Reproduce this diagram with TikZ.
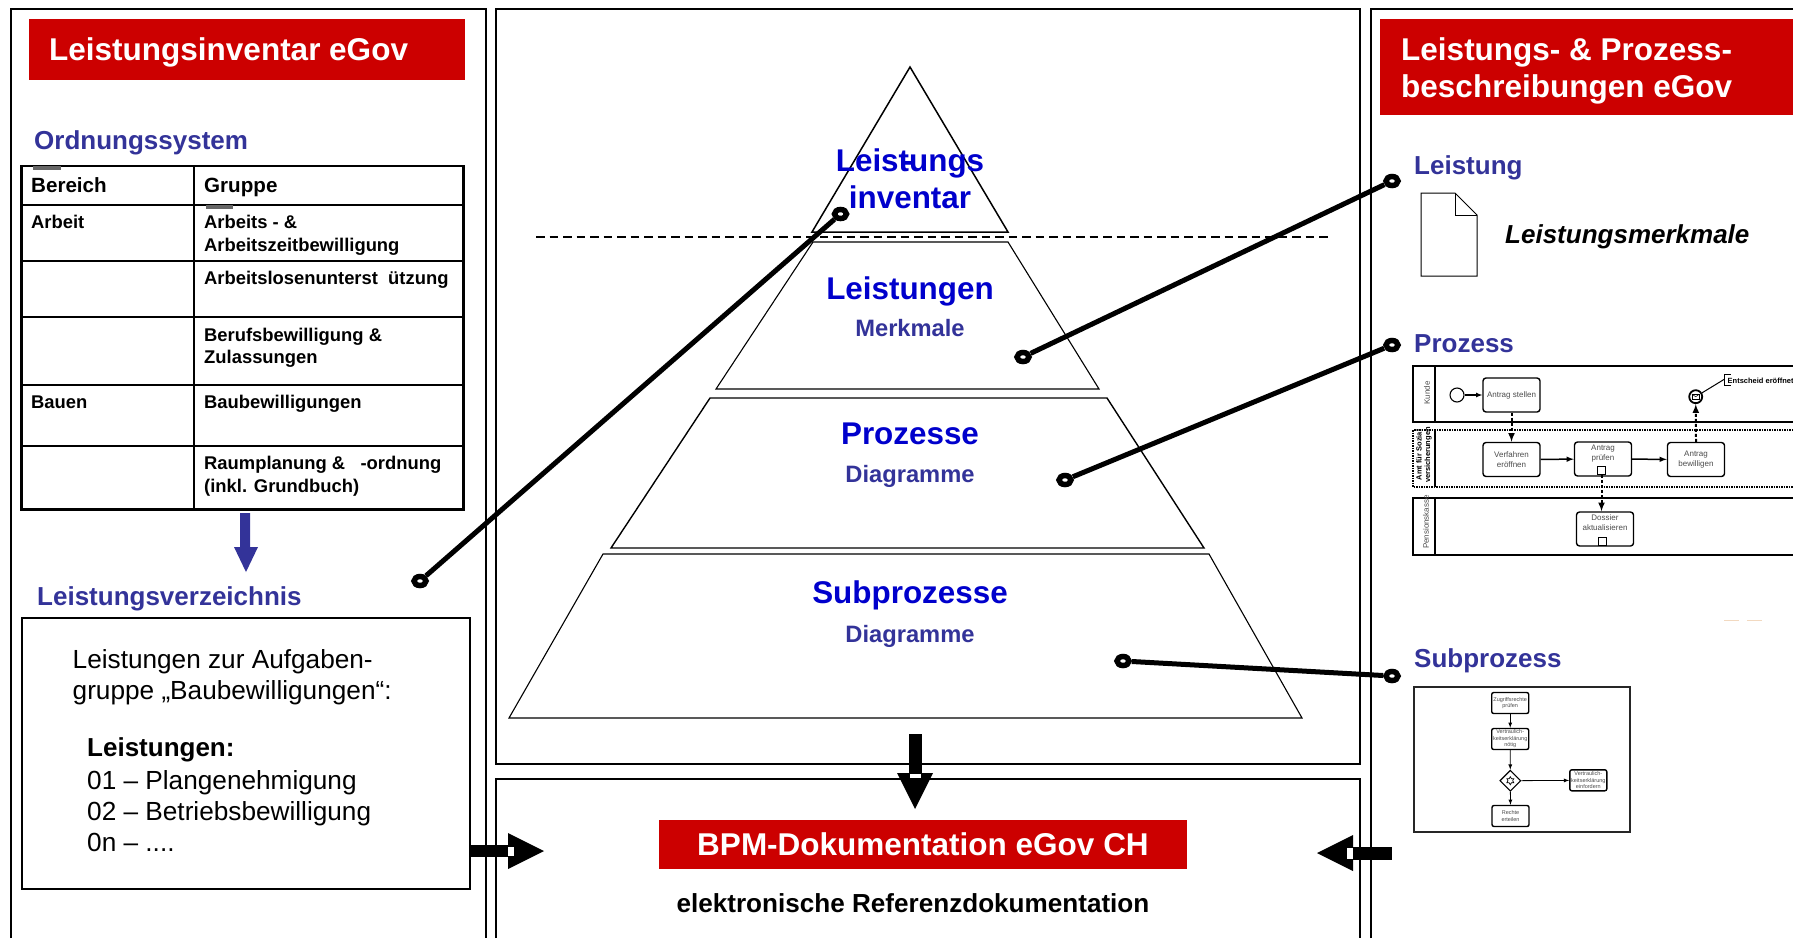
\documentclass[tikz,border=0pt]{standalone}
\usepackage{fontspec}
\setmainfont{Liberation Sans}
\usetikzlibrary{shapes,positioning,arrows,fit,calc}
\definecolor{hdred}{HTML}{CC0000}
\definecolor{navy}{HTML}{333399}
\definecolor{pyblue}{HTML}{0000CC}
\newcommand{\fpx}[1]{\fontsize{#1}{#1}\selectfont}
\tikzset{
    frame/.style={draw=black,line width=1.3pt},
    header/.style={fill=hdred,draw=none,inner sep=0pt},
    headtext/.style={text=white,font=\bfseries\fpx{31.5},anchor=base west,inner sep=0pt,align=left},
    sechead/.style={text=navy,font=\bfseries\fpx{26},anchor=base west,inner sep=0pt},
    cell/.style={font=\bfseries\fpx{18.4},anchor=base west,inner sep=0pt},
    body/.style={font=\fpx{26.2},anchor=base west,inner sep=0pt},
    pyr/.style={draw=black,line width=1.1pt,line join=miter},
    pymain/.style={text=pyblue,font=\bfseries\fpx{31.4},inner sep=0pt},
    pysub/.style={text=navy,font=\bfseries\fpx{23.7},inner sep=0pt},
    endpt/.style={ellipse,draw=black,fill=white,line width=5.5pt,minimum width=12pt,minimum height=9pt,inner sep=0pt},
    conn/.style={draw=black,line width=5pt},
    task/.style={draw=black,fill=white,rounded corners=3pt,line width=1.4pt,text=black!70,align=center,inner sep=0pt,font=\fontsize{8}{9.5}\selectfont},
    subtask/.style={task,font=\fontsize{5.5}{6.5}\selectfont,rounded corners=2pt},
    pool/.style={draw=black,line width=1.3pt},
    lane/.style={text=black!70,font=\fontsize{8}{9}\selectfont,rotate=90,inner sep=0pt,align=center},
    flow/.style={draw=black,line width=1.1pt,-latex},
    dflow/.style={draw=black,line width=2pt,densely dashed,-latex},
}
\begin{document}
\begin{tikzpicture}[x=1pt,y=-1pt]
    \useasboundingbox (0,0) rectangle (1793,938);
    \fill[white] (0,0) rectangle (1793,938);
    % frames
    \draw[frame] (11,938) -- (11,9) -- (486,9) -- (486,938);
    \draw[frame] (496,764) rectangle (1360,9);
    \draw[frame] (496,938) -- (496,779) -- (1360,779) -- (1360,938);
    \draw[frame] (1371,938) -- (1371,9) -- (1793,9);
    % left column
    \node[header,minimum width=436pt,minimum height=61pt] (hdleft) at (247,49.5) {};
    \node[headtext] (hdlefttxt) at (49,60) {Leistungsinventar eGov};
    \node[sechead] (ordnung) at (34,149) {Ordnungssystem};
    % table
    \draw[line width=1.5pt] (21,166) -- (463,166);
    \draw[line width=3pt] (21,165) -- (21,509) -- (463,509) -- (463,165);
    \draw[line width=1.1pt] (194,166) -- (194,509);
    \foreach \y in {205,261,317,385,446}
        \draw[line width=1.2pt] (21,\y) -- (463,\y);
    \fill[black!60] (33,166) rectangle (61,169.5);
    \fill[black!60] (206,205) rectangle (233,208.5);
    \node[cell,font=\bfseries\fpx{20.6}] (bereich) at (31,192) {Bereich};
    \node[cell,font=\bfseries\fpx{20.6}] (gruppe) at (204,192) {Gruppe};
    \node[cell] (arbeit) at (31,228) {Arbeit};
    \node[cell] (g1a) at (204,228) {Arbeits - \&};
    \node[cell] (g1b) at (204,251) {Arbeitszeitbewilligung};
    \node[cell] (g2) at (204,284) {Arbeitslosenunterst\ \ ützung};
    \node[cell] (g3a) at (204,341) {Berufsbewilligung \&};
    \node[cell] (g3b) at (204,363) {Zulassungen};
    \node[cell] (bauen) at (31,408) {Bauen};
    \node[cell] (g4) at (204,408) {Baubewilligungen};
    \node[cell] (g5a) at (204,469) {Raumplanung \&\ \ \ -ordnung};
    \node[cell] (g5b) at (204,492) {(inkl. Grundbuch)};
    % arrow table to list
    \fill[navy] (240,513) -- (250,513) -- (250,547) -- (258,547) -- (246,572) -- (234,547) -- (240,547) -- cycle;
    \node[sechead] (verz) at (37,605) {Leistungsverzeichnis};
    \node[draw=black,line width=1.6pt,minimum width=448pt,minimum height=271pt,inner sep=0pt] (list) at (246,753.5) {};
    \node[body] (l1) at (72.5,668) {Leistungen zur Aufgaben-};
    \node[body] (l2) at (72.5,699) {gruppe „Baubewilligungen“:};
    \node[body,font=\bfseries\fpx{26}] (l3) at (87,756) {Leistungen:};
    \node[body] (l4) at (87,789) {01 – Plangenehmigung};
    \node[body] (l5) at (87,820) {02 – Betriebsbewilligung};
    \node[body] (l6) at (87,851) {0n – ....};
    % block arrows
    \fill (470,845) rectangle (510,857);
    \fill (508,833) -- (544,851) -- (508,869) -- cycle;
    \fill[white] (508,847) rectangle (514,856);
    \fill (1392,847) rectangle (1352,860);
    \fill (1353,835) -- (1317,853) -- (1353,871) -- cycle;
    \fill[white] (1347,848) rectangle (1352.5,859);
    \fill (909,734) rectangle (922,775);
    \fill (897,773) -- (933,773) -- (915,809) -- cycle;
    \fill[white] (910,774) rectangle (921,778);
    % pyramid
    \draw[pyr,line width=1.5pt] (910,67) -- (1008,232) -- (812,232) -- cycle;
    \draw[pyr] (813,242) -- (1008,242) -- (1099,389) -- (716,389) -- cycle;
    \draw[pyr,line width=1.4pt] (710,398) -- (1107,398) -- (1204,548) -- (611,548) -- cycle;
    \draw[pyr] (603,554) -- (1209,554) -- (1302,718) -- (509,718) -- cycle;
    \draw[line width=2.6pt,dash pattern=on 8.5pt off 5pt] (536,237) -- (1329,237);
    \node[pymain] (inv1) at (910,163.5) {Leis\rlap{\kern4pt-}tungs};
    \node[pymain] (inv2) at (910,197) {inventar};
    \node[pymain] (lei) at (910,291) {Leistungen};
    \node[pysub] (mm) at (910,328) {Merkmale};
    \node[pymain] (pro) at (910,434) {Prozesse};
    \node[pysub] (dg1) at (910,476) {Diagramme};
    \node[pymain] (sub) at (910,595) {Subprozesse};
    \node[pysub] (dg2) at (910,636) {Diagramme};
    % red box bottom
    \node[header,minimum width=528pt,minimum height=49pt,text=white,font=\bfseries\fpx{31.5}] (bpm) at (923,844.5) {BPM-Dokumentation eGov CH};
    \node[font=\bfseries\fpx{26.1},inner sep=0pt] (ref) at (913,903) {elektronische Referenzdokumentation};
    % right column
    \node[header,minimum width=413pt,minimum height=96pt] (hdright) at (1586.5,67) {};
    \node[headtext] (hdr1) at (1401,60) {Leistungs- \& Prozess-};
    \node[headtext] (hdr2) at (1401,97) {beschreibungen eGov};
    \node[sechead] (leist) at (1414,174) {Leistung};
    \draw[line width=1pt] (1421,193) -- (1455,193) -- (1477,215) -- (1477,276) -- (1421,276) -- cycle;
    \draw[line width=1pt] (1455,193) -- (1455,215) -- (1477,215);
    \node[font=\bfseries\itshape\fpx{26},anchor=west,inner sep=0pt] (merk) at (1505,237) {Leistungsmerkmale};
    \node[sechead] (proz) at (1414,352) {Prozess};
    \node[sechead] (subp) at (1414,667) {Subprozess};
    % process pools
    \draw[pool] (1793,366) -- (1413,366) -- (1413,422) -- (1793,422);
    \draw[pool] (1435,366) -- (1435,422);
    \draw[pool,dash pattern=on 1.5pt off 1pt] (1793,430) -- (1413,430) -- (1413,487) -- (1793,487);
    \draw[pool] (1435,430) -- (1435,487);
    \draw[pool] (1793,498) -- (1413,498) -- (1413,555) -- (1793,555);
    \draw[pool] (1435,498) -- (1435,555);
    \node[lane] (kunde) at (1427,393) {Kunde};
    \node[lane,text=black,font=\bfseries\fontsize{7.5}{8.5}\selectfont] (amt) at (1424,455) {Amt für Sozial\\versicherungen};
    \node[lane] (pens) at (1426,522) {Pensionskasse};
    \node[circle,draw=black,line width=1.1pt,minimum size=14pt,inner sep=0pt] (start) at (1457,395) {};
    \node[task,minimum width=57pt,minimum height=34pt] (t1) at (1511.5,395) {Antrag stellen};
    \node[task,minimum width=57pt,minimum height=34pt] (t2) at (1511.5,459.5) {Verfahren\\eröffnen};
    \node[task,minimum width=57pt,minimum height=34pt] (t3) at (1603,459) {Antrag\\prüfen\\[3pt]};
    \node[task,minimum width=57pt,minimum height=34pt] (t4) at (1696,459.5) {Antrag\\bewilligen};
    \node[task,minimum width=57pt,minimum height=34pt] (t5) at (1605,529) {Dossier\\aktualisieren\\[3pt]};
    \node[draw=black,fill=white,line width=.8pt,minimum size=8.5pt,inner sep=0pt] (m3) at (1601.5,470.5) {};
    \node[draw=black,fill=white,line width=.8pt,minimum size=8.5pt,inner sep=0pt] (m5) at (1602.5,541.5) {};
    \node[circle,draw=black,line width=1.8pt,fill=white,minimum size=13pt,inner sep=0pt] (ev) at (1695.7,396.7) {};
    \node[draw=black,line width=.7pt,minimum width=7pt,minimum height=4.5pt,inner sep=0pt] (env) at (1695.7,396.7) {};
    \draw[line width=.5pt] (env.north west) -- (env.center) -- (env.north east);
    \draw[line width=1.2pt] (1730.7,374.3) -- (1724.7,374.3) -- (1724.7,385.7) -- (1730.7,385.7);
    \coordinate (notepin) at (1724.7,379);
    \node[font=\bfseries\fpx{7.5},anchor=west,inner sep=0pt] (note) at (1727.5,381) {Entscheid eröffnet};
    \draw[line width=1pt] (ev) -- (notepin);
    \draw[flow] (start) -- (t1);
    \draw[dflow] (t1) -- (t2);
    \draw[flow,line width=1.5pt] (t2) -- (t3);
    \draw[flow,line width=1.5pt] (t3) -- (t4);
    \draw[dflow] (t4.north) -- (ev);
    \draw[dflow] (m3) -- (m3 |- t5.north);
    % subprocess box
    \node[draw=black!85,line width=1.1pt,minimum width=216pt,minimum height=145pt,inner sep=0pt] (subbox) at (1522,759.5) {};
    \node[subtask,minimum width=37pt,minimum height=21pt] (s1) at (1510.2,703) {Zugriffsrechte\\prüfen};
    \node[subtask,minimum width=37pt,minimum height=21pt] (s2) at (1510.2,739) {Vertraulich-\\keitserklärung\\nötig};
    \node[diamond,draw=black,line width=1.1pt,minimum size=21pt,inner sep=0pt] (gw) at (1510.3,780.7) {};
    \node[star,star points=6,star point ratio=1.7,draw=black,line width=.7pt,minimum size=8pt,inner sep=0pt] (gwstar) at (gw) {};
    \node[subtask,minimum width=37pt,minimum height=21pt] (s3) at (1588.3,780.3) {Vertraulich-\\keitserklärung\\einfordern};
    \node[subtask,minimum width=37pt,minimum height=21pt] (s4) at (1510.5,816) {Rechte\\erteilen};
    \draw[flow,line width=.8pt] (s1) -- (s2);
    \draw[flow,line width=.8pt] (s2) -- (gw);
    \draw[flow,line width=.8pt] (gw) -- (s3);
    \draw[flow,line width=.8pt] (gw) -- (s4);
    % faint marks
    \draw[line width=1pt,draw=orange!30!brown!30] (1724,620.5) -- (1739,620.5);
    \draw[line width=1pt,draw=orange!30!brown!30] (1747,620.5) -- (1762,620.5);
    % connectors
    \node[endpt] (a1) at (420,581) {};
    \node[endpt] (a2) at (840.5,214) {};
    \node[endpt] (b1) at (1023,357) {};
    \node[endpt] (b2) at (1392,181) {};
    \node[endpt] (c1) at (1065,480) {};
    \node[endpt] (c2) at (1392,345) {};
    \node[endpt] (d1) at (1123,661) {};
    \node[endpt] (d2) at (1392,676) {};
    \draw[conn] (a1) -- (a2);
    \draw[conn] (b1) -- (b2);
    \draw[conn] (c1) -- (c2);
    \draw[conn] (d1) -- (d2);
\end{tikzpicture}
\end{document}
